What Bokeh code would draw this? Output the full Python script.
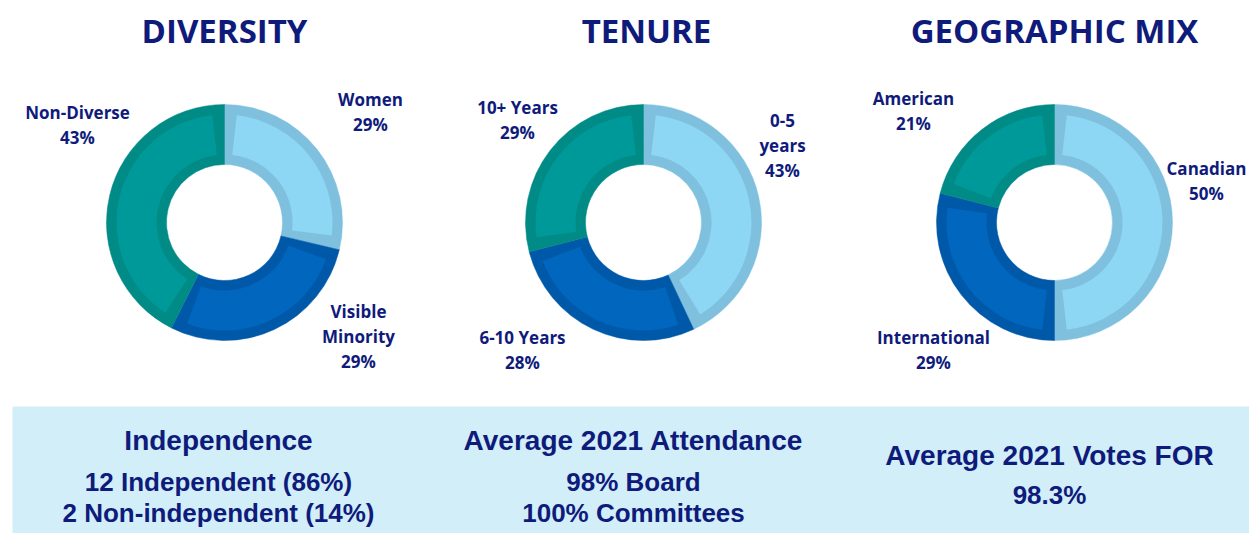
import math
from bokeh.plotting import figure
from bokeh.models import Range1d
from bokeh.core.properties import value
from bokeh.embed import file_html
from bokeh.resources import INLINE

# ---------------- data ----------------
chart_titles = ["DIVERSITY", "TENURE", "GEOGRAPHIC MIX"]

diversity_cats = ["Women", "Visible\nMinority", "Non-Diverse"]
diversity_vals = [29, 29, 43]

tenure_cats = ["0-5\nyears", "6-10 Years", "10+ Years"]
tenure_vals = [43, 28, 29]

geo_cats = ["Canadian", "International", "American"]
geo_vals = [50, 29, 21]

box_titles = ["Independence", "Average 2021 Attendance", "Average 2021 Votes FOR"]
box_lines = [
    ["12 Independent (86%)", "2 Non-independent (14%)"],
    ["98% Board", "100% Committees"],
    ["98.3%"],
]

# ---------------- styles / layout ----------------
NAVY = "#0F1B7B"
FILLS = ["#8DD6F4", "#0066BE", "#009999"]
BORDERS = ["#7EC0DE", "#0059A8", "#008B87"]
W, H = 1249, 533
PAGE_H = 533

def Y(ref_y):
    return PAGE_H - ref_y

centers_x = [224, 643, 1054]
center_y = 222
R_OUT, R_IN, BW = 118, 58, 10
title_x = [224, 646, 1054]
title_y = 30

label_pos = [
    [(370, 99), (358, 311), (77, 112)],
    [(782, 120), (522, 337), (517, 107)],
    [(1206, 168), (933, 337), (913, 98)],
]
LINE_STEP = 25

p = figure(width=W, height=H, output_backend="svg", toolbar_location=None,
           x_range=Range1d(0, W), y_range=Range1d(PAGE_H - H, PAGE_H),
           min_border=0, background_fill_color="white")
p.axis.visible = False
p.grid.visible = False
p.outline_line_color = None

# bottom box
p.quad(left=12, right=1260, top=Y(406), bottom=Y(540), fill_color="#D2EEF9", line_color=None)

series = [(diversity_cats, diversity_vals), (tenure_cats, tenure_vals), (geo_cats, geo_vals)]
inset = BW / ((R_OUT + R_IN) / 2)
for ci, (cats, vals) in enumerate(series):
    total = float(sum(vals))
    cum = 0.0
    cx = centers_x[ci]
    cy = Y(center_y)
    for si, v in enumerate(vals):
        a0 = math.pi / 2 - 2 * math.pi * cum / total
        cum += v
        a1 = math.pi / 2 - 2 * math.pi * cum / total
        p.annular_wedge(x=cx, y=cy, inner_radius=R_IN, outer_radius=R_OUT,
                        start_angle=a1, end_angle=a0, direction="anticlock",
                        fill_color=BORDERS[si], line_color=BORDERS[si], line_width=0.5)
        p.annular_wedge(x=cx, y=cy, inner_radius=R_IN + BW, outer_radius=R_OUT - BW,
                        start_angle=a1 + inset, end_angle=a0 - inset, direction="anticlock",
                        fill_color=FILLS[si], line_color=None)
        # label
        lines = cats[si].split("\n") + [f"{v}%"]
        lx, ly = label_pos[ci][si]
        for li, t in enumerate(lines):
            p.text(x=[lx], y=[Y(ly + li * LINE_STEP)], text=[t], text_align="center",
                   text_baseline="middle", text_color=NAVY, text_font=value("Open Sans"),
                   text_font_style="bold", text_font_size="17px")
    p.text(x=[title_x[ci]], y=[Y(title_y)], text=[chart_titles[ci]], text_align="center",
           text_baseline="middle", text_color=NAVY, text_font=value("Open Sans"),
           text_font_style="bold", text_font_size="33px")

box_x = [218, 633, 1049]
box_title_y = [440, 440, 455]
box_line_y = [[481, 512], [481, 512], [494]]
for bi in range(3):
    p.text(x=[box_x[bi]], y=[Y(box_title_y[bi])], text=[box_titles[bi]], text_align="center",
           text_baseline="middle", text_color=NAVY, text_font=value("Liberation Sans"),
           text_font_style="bold", text_font_size="28px")
    for li, t in enumerate(box_lines[bi]):
        p.text(x=[box_x[bi]], y=[Y(box_line_y[bi][li])], text=[t], text_align="center",
               text_baseline="middle", text_color=NAVY, text_font=value("Liberation Sans"),
               text_font_style="bold", text_font_size="26px")

open("out.html", "w").write(file_html(p, INLINE))
